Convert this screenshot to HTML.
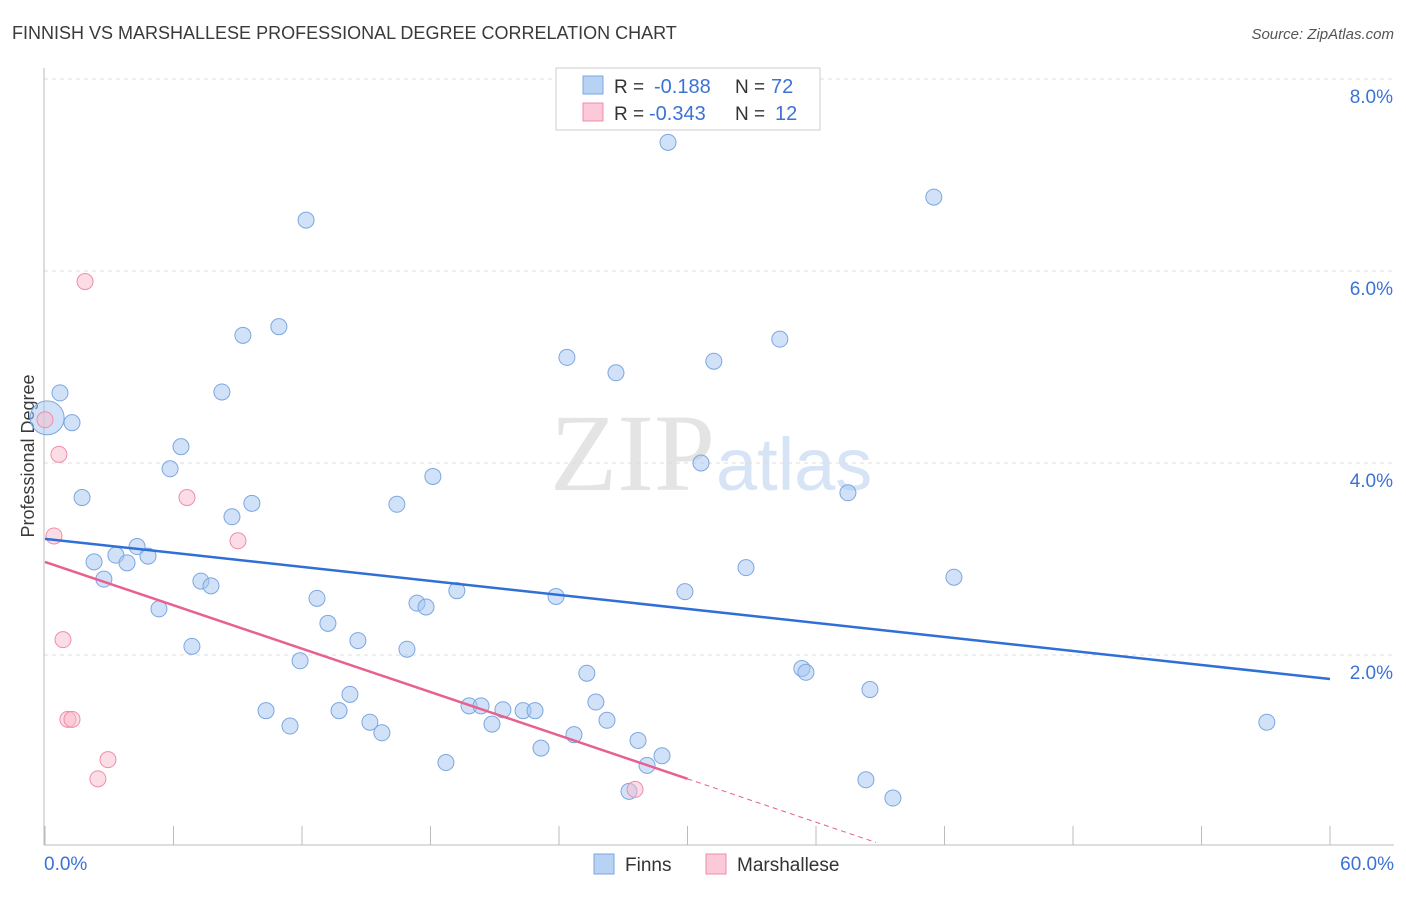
<!DOCTYPE html>
<html><head><meta charset="utf-8"><style>
body{margin:0;background:#fff;font-family:"Liberation Sans",sans-serif;}
</style></head><body>
<svg width="1406" height="892" xmlns="http://www.w3.org/2000/svg" id="chart">
<text x="12" y="39" font-size="18" fill="#3a3a3a">FINNISH VS MARSHALLESE PROFESSIONAL DEGREE CORRELATION CHART</text>
<text x="1394" y="39" font-size="15" fill="#555" font-style="italic" text-anchor="end">Source: ZipAtlas.com</text>
<text x="715" y="490" font-size="110" font-family="Liberation Serif,serif" fill="#e4e4e4" text-anchor="end">ZIP</text>
<text x="716" y="490" font-size="74" fill="#d6e4f6">atlas</text>
<g id="grid"></g>
<line x1="44" y1="68" x2="44" y2="845" stroke="#bbb"/>
<line x1="44" y1="845" x2="1394" y2="845" stroke="#bbb"/>
<text transform="translate(34,456) rotate(-90)" font-size="18" fill="#3a3a3a" text-anchor="middle">Professional Degree</text>
<g id="marks"></g>
<g>
<rect x="556" y="68" width="264" height="62" fill="#fff" stroke="#ccc"/>
<rect x="583" y="76" width="20" height="18" fill="#b8d2f4" stroke="#7ba7e0"/>
<rect x="583" y="103" width="20" height="18" fill="#fbc9d7" stroke="#f08cac"/>
<text x="614" y="93" font-size="19" fill="#333">R =</text>
<text x="654" y="93" font-size="20" fill="#3b73d4">-0.188</text>
<text x="735" y="93" font-size="19" fill="#333">N =</text>
<text x="771" y="93" font-size="20" fill="#3b73d4">72</text>
<text x="614" y="120" font-size="19" fill="#333">R =</text>
<text x="649" y="120" font-size="20" fill="#3b73d4">-0.343</text>
<text x="735" y="120" font-size="19" fill="#333">N =</text>
<text x="775" y="120" font-size="20" fill="#3b73d4">12</text>
</g>
<g>
<rect x="594" y="854" width="20" height="20" fill="#b8d2f4" stroke="#7ba7e0"/>
<text x="625" y="871" font-size="19" fill="#333">Finns</text>
<rect x="706" y="854" width="20" height="20" fill="#fbc9d7" stroke="#f08cac"/>
<text x="737" y="871" font-size="19" fill="#333">Marshallese</text>
</g>
</svg>
<script>
const finnX=[29.09,41.5,12.19,10.92,9.24,34.31,24.37,31.23,26.66,8.26,0.70,1.26,0.1,6.35,5.84,30.63,18.11,1.73,9.66,16.43,8.73,37.49,4.30,3.31,4.81,2.29,3.83,32.73,42.44,2.75,7.28,7.75,19.23,29.88,23.86,12.70,17.37,17.79,5.32,13.21,14.61,6.86,16.90,11.91,35.34,35.53,25.30,38.52,14.24,25.72,19.80,20.36,10.32,13.73,21.38,22.32,22.88,26.24,15.17,11.44,20.87,57.05,15.73,24.70,27.69,23.16,28.81,18.72,28.11,38.33,27.27,39.59];
const finnY=[7.34,6.77,6.53,5.42,5.33,5.29,5.10,5.06,4.94,4.74,4.73,4.42,4.47,4.17,3.94,4.0,3.86,3.64,3.58,3.57,3.44,3.69,3.13,3.04,3.03,2.97,2.96,2.91,2.81,2.79,2.77,2.72,2.67,2.66,2.61,2.59,2.54,2.50,2.48,2.33,2.15,2.09,2.06,1.94,1.86,1.82,1.81,1.64,1.59,1.51,1.47,1.47,1.42,1.42,1.43,1.42,1.42,1.32,1.30,1.26,1.28,1.30,1.19,1.17,1.11,1.03,0.95,0.88,0.85,0.70,0.58,0.51];
const marshX=[1.87,0,0.65,6.63,0.42,9.01,0.84,1.07,1.26,2.94,2.47,27.55];
const marshY=[5.89,4.45,4.09,3.64,3.24,3.19,2.16,1.33,1.33,0.91,0.71,0.60];
const yTicks=[2,4,6,8];
const yTickLabels=["2.0%","4.0%","6.0%","8.0%"];
const xTicks=[0,6,12,18,24,30,36,42,48,54,60];
const finnTrend=[3.21,1.75];
const marshTrend=[2.97,0.71,30];
const sx=v=>45+v*21.417, sy=v=>847-v*96;
const NS="http://www.w3.org/2000/svg";
const grid=document.getElementById('grid'), marks=document.getElementById('marks'), svg=document.getElementById('chart');
function mk(t,a,p){const e=document.createElementNS(NS,t);for(const k in a)e.setAttribute(k,a[k]);p.appendChild(e);return e;}
yTicks.forEach((v,i)=>{
 const l=mk('line',{x1:44,x2:1394,y1:sy(v),y2:sy(v),stroke:'#ddd','stroke-dasharray':'4,4'},grid);
 
 
 const t=mk('text',{x:1393,y:sy(v)+24,'font-size':19,fill:'#3b73d4','text-anchor':'end'},svg);
 t.textContent=yTickLabels[i];
 
 
});
xTicks.forEach(v=>{
 const l=mk('line',{x1:sx(v),x2:sx(v),y1:826,y2:845,stroke:'#bbb'},grid);
 
 
});
[[0,"0.0%","start",44],[60,"60.0%","end",1394]].forEach(a=>{
 const t=mk('text',{x:a[3],y:870,'font-size':19,fill:'#3b73d4','text-anchor':a[2]},svg);
 t.textContent=a[1];
 
 
});
finnX.forEach((x,i)=>{
 const big=i===12;
 const c=mk('circle',{cx:sx(x),cy:sy(finnY[i]),r:big?17:8,fill:'rgba(164,198,242,0.5)',stroke:'#7ba7e0','stroke-width':1},marks);
 
 
});
marshX.forEach((x,i)=>{
 const c=mk('circle',{cx:sx(x),cy:sy(marshY[i]),r:8,fill:'rgba(249,186,204,0.5)',stroke:'#f08cac','stroke-width':1},marks);
 
 
});
const bt=mk('line',{x1:sx(0),y1:sy(finnTrend[0]),x2:sx(60),y2:sy(finnTrend[1]),stroke:'#2f6fd6','stroke-width':2.5},marks);


const slope=(marshTrend[1]-marshTrend[0])/marshTrend[2];
const pt=mk('line',{x1:sx(0),y1:sy(marshTrend[0]),x2:sx(marshTrend[2]),y2:sy(marshTrend[1]),stroke:'#e8608f','stroke-width':2.5},marks);


const xe=38.8;
const pd=mk('line',{x1:sx(marshTrend[2]),y1:sy(marshTrend[1]),x2:sx(xe),y2:sy(marshTrend[0]+slope*xe),stroke:'#e8608f','stroke-width':1,'stroke-dasharray':'5,4'},marks);


</script>
</body></html>
